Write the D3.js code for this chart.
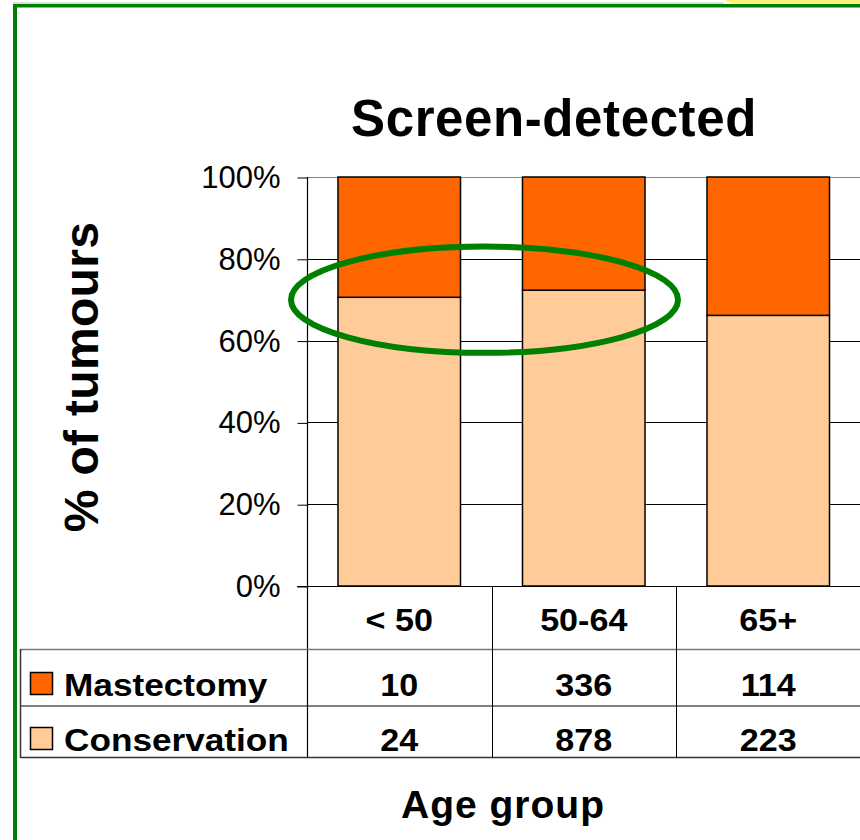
<!DOCTYPE html>
<html>
<head>
<meta charset="utf-8">
<script src="https://cdn.jsdelivr.net/npm/d3@7/dist/d3.min.js"></script>
<style>
  html, body { margin: 0; padding: 0; background: #ffffff; }
  svg { display: block; font-family: "Liberation Sans", Arial, sans-serif; }
</style>
</head>
<body>
<svg id="chart" width="860" height="840"></svg>
<script>
// ---- data ----
const categories = ["< 50", "50-64", "65+"];
const seriesNames = ["Conservation", "Mastectomy"];
const conservation = [24, 878, 223];
const mastectomy = [10, 336, 114];
const yTicks = [0, 0.2, 0.4, 0.6, 0.8, 1.0];
const title = "Screen-detected";
const yTitle = "% of tumours";
const xTitle = "Age group";
const colors = { Mastectomy: "#FF6600", Conservation: "#FFCC99" };
// highlight annotation: the two groups circled, around the 70% level
const highlight = { from: "< 50", to: "50-64", level: 0.70, low: 0.57, high: 0.83 };

const rows = categories.map((c, i) => ({ cat: c, Conservation: conservation[i], Mastectomy: mastectomy[i] }));

const svg = d3.select("#chart");

// frame decorations
svg.append("polygon").attr("points", "724,0 860,0 860,4 732,4").attr("fill", "#FFF27A");
svg.append("line").attr("x1", 13).attr("x2", 724).attr("y1", 3).attr("y2", 3).attr("stroke", "#b0c8b0").attr("stroke-width", 1);
svg.append("rect").attr("x", 13).attr("y", 4).attr("width", 860).attr("height", 3.5).attr("fill", "#008000");
svg.append("rect").attr("x", 13).attr("y", 4).attr("width", 4).attr("height", 840).attr("fill", "#008000");

// scales
const plotLeft = 307, plotRight = 860.5, plotTop = 177, plotBottom = 586;
const x = d3.scaleBand().domain(categories).range([plotLeft, plotRight]).paddingInner(0.336).paddingOuter(0.168);
const y = d3.scaleLinear().domain([0, 1]).range([plotBottom, plotTop]);

// gridlines
svg.append("g").selectAll("line").data(yTicks.filter(t => t > 0)).join("line")
  .attr("x1", plotLeft).attr("x2", 860)
  .attr("y1", d => Math.round(y(d)) + 0.5).attr("y2", d => Math.round(y(d)) + 0.5)
  .attr("stroke", d => d === 1 ? "#888" : "#000").attr("stroke-width", 1);

// y axis
const yAxis = d3.axisLeft(y).tickValues(yTicks).tickFormat(d3.format(".0%")).tickSize(10).tickPadding(17);
const gy = svg.append("g").attr("transform", `translate(${plotLeft + 0.5},0.5)`).call(yAxis);
gy.select(".domain").remove();
gy.selectAll(".tick line").attr("stroke", "#000");
gy.selectAll(".tick text").attr("font-size", 31).attr("fill", "#000").attr("font-family", "Liberation Sans, Arial, sans-serif");

// stacked bars
const stack = d3.stack().keys(seriesNames).offset(d3.stackOffsetExpand);
const stacked = stack(rows);
svg.append("g").selectAll("g").data(stacked).join("g")
  .attr("fill", d => colors[d.key])
  .selectAll("rect").data(d => d).join("rect")
  .attr("x", d => x(d.data.cat))
  .attr("y", d => y(d[1]))
  .attr("width", x.bandwidth())
  .attr("height", d => y(d[0]) - y(d[1]))
  .attr("stroke", "#000").attr("stroke-width", 1.5);

// axis lines
svg.append("line").attr("x1", plotLeft + 0.5).attr("x2", plotLeft + 0.5).attr("y1", plotTop).attr("y2", 758).attr("stroke", "#000").attr("stroke-width", 1.2);
svg.append("line").attr("x1", 297).attr("x2", 860).attr("y1", plotBottom + 0.5).attr("y2", plotBottom + 0.5).attr("stroke", "#000").attr("stroke-width", 1.2);

// data table
const step = x.step();
const colEdges = categories.map((c, i) => plotLeft + i * step);
const headerBase = 631, row1Base = 696, row2Base = 751;
const tableLeft = 20.5;
const stretch = 1.1;
// horizontal rules
svg.append("line").attr("x1", tableLeft).attr("x2", 860).attr("y1", 649.5).attr("y2", 649.5).attr("stroke", "#777").attr("stroke-width", 1.5);
svg.append("line").attr("x1", tableLeft).attr("x2", 860).attr("y1", 706).attr("y2", 706).attr("stroke", "#000").attr("stroke-width", 1);
svg.append("line").attr("x1", tableLeft).attr("x2", 860).attr("y1", 757.5).attr("y2", 757.5).attr("stroke", "#333").attr("stroke-width", 1.5);
svg.append("line").attr("x1", tableLeft).attr("x2", tableLeft).attr("y1", 649).attr("y2", 758).attr("stroke", "#333").attr("stroke-width", 1.5);
svg.append("g").selectAll("line").data(colEdges.slice(1)).join("line")
  .attr("x1", d => Math.round(d) + 0.5).attr("x2", d => Math.round(d) + 0.5)
  .attr("y1", plotBottom).attr("y2", 758).attr("stroke", "#000").attr("stroke-width", 1);

const tfont = "Liberation Sans, Arial, sans-serif";
// header
svg.append("g").selectAll("text").data(categories).join("text")
  .attr("transform", d => `translate(${x(d) + x.bandwidth() / 2},${headerBase}) scale(${stretch},1)`)
  .attr("text-anchor", "middle").attr("font-size", 31).attr("font-weight", "bold")
  .attr("font-family", tfont).text(d => d);
// rows
const tableRows = [
  { name: "Mastectomy", values: mastectomy, base: row1Base },
  { name: "Conservation", values: conservation, base: row2Base }
];
tableRows.forEach(r => {
  svg.append("g").selectAll("text").data(r.values).join("text")
    .attr("transform", (d, i) => `translate(${x(categories[i]) + x.bandwidth() / 2},${r.base}) scale(${stretch},1)`)
    .attr("text-anchor", "middle").attr("font-size", 31).attr("font-weight", "bold")
    .attr("font-family", tfont).text(d => d);
  svg.append("rect").attr("x", 30.5).attr("y", r.base - 23.5).attr("width", 22).attr("height", 22)
    .attr("fill", colors[r.name]).attr("stroke", "#000").attr("stroke-width", 1.5);
  svg.append("text").attr("transform", `translate(64,${r.base}) scale(${stretch},1)`)
    .attr("font-size", 32).attr("font-weight", "bold")
    .attr("font-family", tfont).text(r.name);
});

// titles
svg.append("text").attr("x", 554).attr("y", 136).attr("text-anchor", "middle")
  .attr("font-size", 51).attr("font-weight", "bold").attr("letter-spacing", 0.6).text(title);
svg.append("text").attr("transform", "translate(98,377) rotate(-90)").attr("text-anchor", "middle")
  .attr("font-size", 48).attr("font-weight", "bold").attr("letter-spacing", 0.3).text(yTitle);
svg.append("text").attr("x", 503).attr("y", 818).attr("text-anchor", "middle")
  .attr("font-size", 39).attr("font-weight", "bold").attr("letter-spacing", 1).text(xTitle);

// highlight ellipse
const exLeft = x(highlight.from) - 47;
const exRight = x(highlight.to) + x.bandwidth() + 33;
svg.append("ellipse")
  .attr("cx", (exLeft + exRight) / 2).attr("cy", y(highlight.level))
  .attr("rx", (exRight - exLeft) / 2).attr("ry", (y(highlight.low) - y(highlight.high)) / 2)
  .attr("fill", "none").attr("stroke", "#008000").attr("stroke-width", 6);
</script>
</body>
</html>
